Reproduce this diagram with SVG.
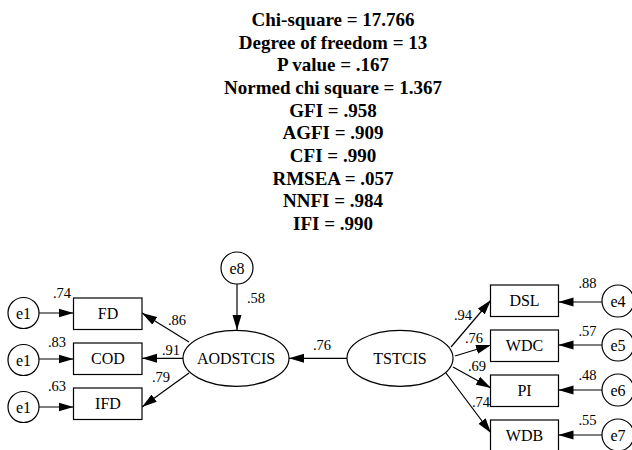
<svg xmlns="http://www.w3.org/2000/svg" width="632" height="450" viewBox="0 0 632 450">
<defs>
<marker id="ah" viewBox="0 0 15 10" refX="15" refY="5" markerWidth="15" markerHeight="10" markerUnits="userSpaceOnUse" orient="auto">
<path d="M0,0.5 L15,5 L0,9.5 Z" fill="#000"/>
</marker>
</defs>
<style>
text{font-family:'Liberation Serif','Times New Roman',Times,serif;fill:#000;text-anchor:middle}
.t{font-weight:bold;font-size:19px}
.n{font-size:16px}
.l{font-size:14.5px}
.s{fill:#fff;stroke:#000;stroke-width:1.2}
.c{stroke:#000;stroke-width:1.2;fill:none;marker-end:url(#ah)}
</style>
<rect width="632" height="450" fill="#fff"/>
<g id="fit">
<text class="t" x="333" y="26">Chi-square = 17.766</text>
<text class="t" x="333" y="48.7">Degree of freedom = 13</text>
<text class="t" x="333" y="71.3">P value = .167</text>
<text class="t" x="333" y="94">Normed chi square = 1.367</text>
<text class="t" x="333" y="116.7">GFI = .958</text>
<text class="t" x="333" y="139.3">AGFI = .909</text>
<text class="t" x="333" y="162">CFI = .990</text>
<text class="t" x="333" y="184.7">RMSEA = .057</text>
<text class="t" x="333" y="207.3">NNFI = .984</text>
<text class="t" x="333" y="230">IFI = .990</text>
</g>
<g id="connectors">
<line class="c" x1="39" y1="313" x2="73.5" y2="313"/>
<line class="c" x1="39" y1="359" x2="73.5" y2="359"/>
<line class="c" x1="39" y1="407" x2="73.5" y2="407"/>
<line class="c" x1="237" y1="284" x2="237" y2="330"/>
<line class="c" x1="189" y1="342" x2="142" y2="313"/>
<line class="c" x1="183" y1="358.3" x2="142" y2="358.3"/>
<line class="c" x1="189" y1="373" x2="142" y2="407"/>
<line class="c" x1="347" y1="358.3" x2="289" y2="358.3"/>
<line class="c" x1="451" y1="347" x2="491" y2="300"/>
<line class="c" x1="455" y1="356" x2="491" y2="345"/>
<line class="c" x1="453" y1="367" x2="491" y2="388"/>
<line class="c" x1="446" y1="373" x2="491" y2="433"/>
<line class="c" x1="602" y1="302" x2="558.5" y2="302"/>
<line class="c" x1="602" y1="345" x2="558.5" y2="345"/>
<line class="c" x1="602" y1="390" x2="558.5" y2="390"/>
<line class="c" x1="602" y1="435" x2="558.5" y2="435"/>
</g>
<g id="labels">
<text class="l" x="62" y="298">.74</text>
<text class="l" x="57" y="347">.83</text>
<text class="l" x="57" y="391">.63</text>
<text class="l" x="256" y="303">.58</text>
<text class="l" x="177" y="325">.86</text>
<text class="l" x="171" y="355">.91</text>
<text class="l" x="161" y="382">.79</text>
<text class="l" x="322" y="350">.76</text>
<text class="l" x="463" y="320">.94</text>
<text class="l" x="474" y="343">.76</text>
<text class="l" x="477" y="371">.69</text>
<text class="l" x="481" y="407">.74</text>
<text class="l" x="587.5" y="288">.88</text>
<text class="l" x="587.5" y="336">.57</text>
<text class="l" x="587.5" y="380">.48</text>
<text class="l" x="587.5" y="425">.55</text>
</g>
<g id="e1a"><circle class="s" cx="23.5" cy="313" r="15.5"/><text class="n" x="23.5" y="318.5">e1</text></g>
<g id="e1b"><circle class="s" cx="23.5" cy="360" r="15.5"/><text class="n" x="23.5" y="365.5">e1</text></g>
<g id="e1c"><circle class="s" cx="23.5" cy="407" r="15.5"/><text class="n" x="23.5" y="412.5">e1</text></g>
<g id="FD"><rect class="s" x="73.5" y="298" width="68.5" height="31.5"/><text class="n" x="108" y="319">FD</text></g>
<g id="COD"><rect class="s" x="73.5" y="343" width="68.5" height="31.5"/><text class="n" x="108" y="364">COD</text></g>
<g id="IFD"><rect class="s" x="73.5" y="388" width="68.5" height="31.5"/><text class="n" x="108" y="409">IFD</text></g>
<g id="e8"><circle class="s" cx="237" cy="268" r="16"/><text class="n" x="237" y="273.5">e8</text></g>
<g id="AODSTCIS"><ellipse class="s" cx="236" cy="358.3" rx="53" ry="28"/><text class="n" x="236" y="364">AODSTCIS</text></g>
<g id="TSTCIS"><ellipse class="s" cx="400" cy="358.3" rx="53" ry="28"/><text class="n" x="400" y="364">TSTCIS</text></g>
<g id="DSL"><rect class="s" x="490.5" y="285" width="68" height="31.5"/><text class="n" x="524.5" y="306">DSL</text></g>
<g id="WDC"><rect class="s" x="490.5" y="330" width="68" height="31.5"/><text class="n" x="524.5" y="351">WDC</text></g>
<g id="PI"><rect class="s" x="490.5" y="375" width="68" height="31.5"/><text class="n" x="524.5" y="396">PI</text></g>
<g id="WDB"><rect class="s" x="490.5" y="420" width="68" height="31.5"/><text class="n" x="524.5" y="441">WDB</text></g>
<g id="e4"><circle class="s" cx="618" cy="301" r="16"/><text class="n" x="618" y="306.5">e4</text></g>
<g id="e5"><circle class="s" cx="618" cy="345" r="16"/><text class="n" x="618" y="350.5">e5</text></g>
<g id="e6"><circle class="s" cx="618" cy="390" r="16"/><text class="n" x="618" y="395.5">e6</text></g>
<g id="e7"><circle class="s" cx="618" cy="435" r="16"/><text class="n" x="618" y="440.5">e7</text></g>
</svg>
